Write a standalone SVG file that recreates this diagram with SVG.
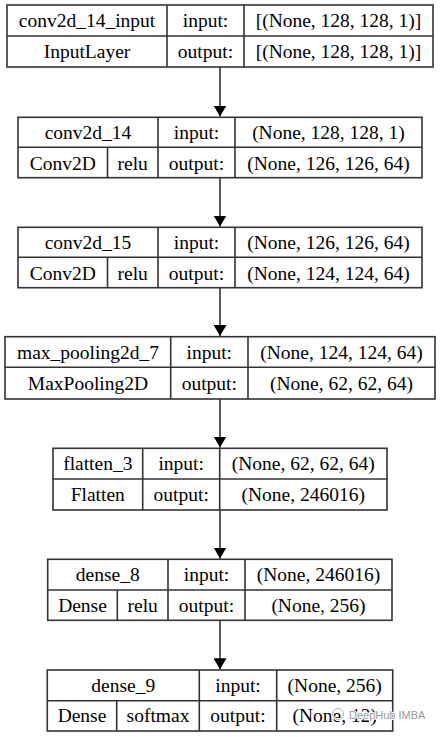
<svg xmlns="http://www.w3.org/2000/svg" width="440" height="737" viewBox="0 0 440 737">
<style>
.box{fill:#fff;stroke:#333;stroke-width:1.6}
.ln{stroke:#333;stroke-width:1.6;fill:none}
.t{font-family:'Liberation Serif','Times New Roman',serif;font-size:19.5px;fill:#000;text-anchor:middle}
.wm{font-family:'Liberation Sans',Arial,sans-serif;font-size:11px;fill:#9a9a9a;stroke:#fff;stroke-width:2;paint-order:stroke;text-anchor:start}
</style>
<defs>
<marker id="ah" markerWidth="11" markerHeight="13" refX="11" refY="5.5" orient="auto" markerUnits="userSpaceOnUse" viewBox="0 0 11 11" preserveAspectRatio="none">
<path d="M0,0 L11,5.5 L0,11 Z" fill="#000"/>
</marker>
</defs>
<g id="connectors">
<line class="ln" x1="220" y1="67" x2="220" y2="116.5" marker-end="url(#ah)"/>
<line class="ln" x1="220" y1="177.7" x2="220" y2="226.5" marker-end="url(#ah)"/>
<line class="ln" x1="220" y1="287.7" x2="220" y2="336" marker-end="url(#ah)"/>
<line class="ln" x1="220" y1="399" x2="220" y2="447.5" marker-end="url(#ah)"/>
<line class="ln" x1="220" y1="510" x2="220" y2="558.5" marker-end="url(#ah)"/>
<line class="ln" x1="220" y1="620.3" x2="220" y2="669.3" marker-end="url(#ah)"/>
</g>
<g id="conv2d_14_input" class="t">
<rect class="box" x="7" y="5" width="426" height="62"/>
<line class="ln" x1="7" y1="36" x2="433" y2="36"/>
<line class="ln" x1="167" y1="5" x2="167" y2="67"/>
<line class="ln" x1="244" y1="5" x2="244" y2="67"/>
<text x="87" y="27">conv2d_14_input</text>
<text x="205.5" y="27">input:</text>
<text x="338.5" y="27">[(None, 128, 128, 1)]</text>
<text x="87" y="58">InputLayer</text>
<text x="205.5" y="58">output:</text>
<text x="338.5" y="58">[(None, 128, 128, 1)]</text>
</g>
<g id="conv2d_14" class="t">
<rect class="box" x="18" y="117.3" width="404" height="60.4"/>
<line class="ln" x1="18" y1="147.3" x2="422" y2="147.3"/>
<line class="ln" x1="158" y1="117.3" x2="158" y2="177.7"/>
<line class="ln" x1="235" y1="117.3" x2="235" y2="177.7"/>
<line class="ln" x1="107.5" y1="147.3" x2="107.5" y2="177.7"/>
<text x="88" y="139">conv2d_14</text>
<text x="196.5" y="139">input:</text>
<text x="328.5" y="139">(None, 128, 128, 1)</text>
<text x="62.7" y="169.5">Conv2D</text>
<text x="132.7" y="169.5">relu</text>
<text x="196.5" y="169.5">output:</text>
<text x="328.5" y="169.5">(None, 126, 126, 64)</text>
</g>
<g id="conv2d_15" class="t">
<rect class="box" x="18" y="227.3" width="404" height="60.4"/>
<line class="ln" x1="18" y1="257.3" x2="422" y2="257.3"/>
<line class="ln" x1="158" y1="227.3" x2="158" y2="287.7"/>
<line class="ln" x1="235" y1="227.3" x2="235" y2="287.7"/>
<line class="ln" x1="107.5" y1="257.3" x2="107.5" y2="287.7"/>
<text x="88" y="249">conv2d_15</text>
<text x="196.5" y="249">input:</text>
<text x="328.5" y="249">(None, 126, 126, 64)</text>
<text x="62.7" y="279.5">Conv2D</text>
<text x="132.7" y="279.5">relu</text>
<text x="196.5" y="279.5">output:</text>
<text x="328.5" y="279.5">(None, 124, 124, 64)</text>
</g>
<g id="max_pooling2d_7" class="t">
<rect class="box" x="5" y="336.7" width="430" height="62.3"/>
<line class="ln" x1="5" y1="367.3" x2="435" y2="367.3"/>
<line class="ln" x1="170.7" y1="336.7" x2="170.7" y2="399"/>
<line class="ln" x1="248" y1="336.7" x2="248" y2="399"/>
<text x="88" y="358.5">max_pooling2d_7</text>
<text x="209.3" y="358.5">input:</text>
<text x="341.5" y="358.5">(None, 124, 124, 64)</text>
<text x="88" y="389.5">MaxPooling2D</text>
<text x="209.3" y="389.5">output:</text>
<text x="341.5" y="389.5">(None, 62, 62, 64)</text>
</g>
<g id="flatten_3" class="t">
<rect class="box" x="53" y="448.3" width="334" height="61.7"/>
<line class="ln" x1="53" y1="479" x2="387" y2="479"/>
<line class="ln" x1="142.7" y1="448.3" x2="142.7" y2="510"/>
<line class="ln" x1="219.7" y1="448.3" x2="219.7" y2="510"/>
<text x="97.8" y="470">flatten_3</text>
<text x="181.2" y="470">input:</text>
<text x="303.3" y="470">(None, 62, 62, 64)</text>
<text x="97.8" y="500.5">Flatten</text>
<text x="181.2" y="500.5">output:</text>
<text x="303.3" y="500.5">(None, 246016)</text>
</g>
<g id="dense_8" class="t">
<rect class="box" x="47.7" y="559.3" width="344.3" height="61"/>
<line class="ln" x1="47.7" y1="590" x2="392" y2="590"/>
<line class="ln" x1="168" y1="559.3" x2="168" y2="620.3"/>
<line class="ln" x1="245" y1="559.3" x2="245" y2="620.3"/>
<line class="ln" x1="117.3" y1="590" x2="117.3" y2="620.3"/>
<text x="107.8" y="581">dense_8</text>
<text x="206.5" y="581">input:</text>
<text x="318.5" y="581">(None, 246016)</text>
<text x="82.5" y="611.5">Dense</text>
<text x="142.7" y="611.5">relu</text>
<text x="206.5" y="611.5">output:</text>
<text x="318.5" y="611.5">(None, 256)</text>
</g>
<g id="dense_9" class="t">
<rect class="box" x="47.3" y="670" width="345.4" height="61"/>
<line class="ln" x1="47.3" y1="700.7" x2="392.7" y2="700.7"/>
<line class="ln" x1="199.3" y1="670" x2="199.3" y2="731"/>
<line class="ln" x1="276.7" y1="670" x2="276.7" y2="731"/>
<line class="ln" x1="116.7" y1="700.7" x2="116.7" y2="731"/>
<text x="123.3" y="691.5">dense_9</text>
<text x="238" y="691.5">input:</text>
<text x="334.7" y="691.5">(None, 256)</text>
<text x="82" y="722">Dense</text>
<text x="158" y="722">softmax</text>
<text x="238" y="722">output:</text>
<text x="334.7" y="722">(None, 12)</text>
</g>
<g id="watermark">
<circle cx="338" cy="714" r="5.5" fill="none" stroke="#fff" stroke-width="2.5"/>
<circle cx="338" cy="714" r="5.5" fill="none" stroke="#b0b0b0" stroke-width="1"/>
<text class="wm" x="349" y="719">DeepHub IMBA</text>
</g>
</svg>
